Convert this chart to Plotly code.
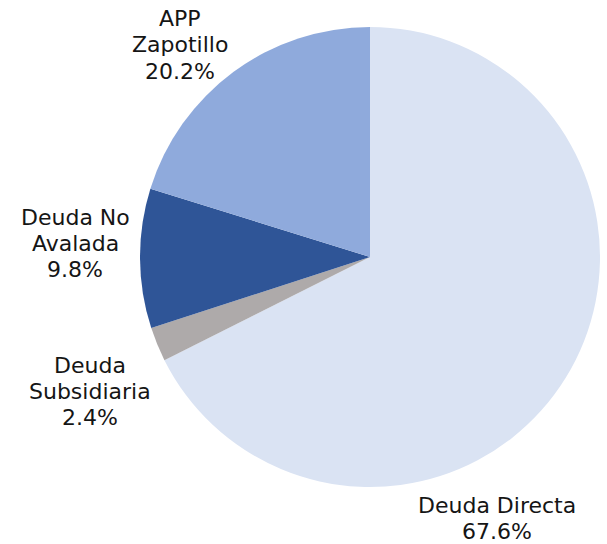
import plotly.graph_objects as go

labels = ["Deuda Directa", "Deuda Subsidiaria", "Deuda No Avalada", "APP Zapotillo"]
label_lines = [["Deuda Directa"], ["Deuda", "Subsidiaria"], ["Deuda No", "Avalada"], ["APP", "Zapotillo"]]
values = [67.6, 2.4, 9.8, 20.2]
colors = ["#DAE3F3", "#AEAAAA", "#2F5597", "#8FAADC"]

W, H = 607, 544

# label placement (pixel centre x of block, y of first line, line step)
label_cx = [496.5, 90, 75, 180]
label_y0 = [505, 365.3, 217, 18.5]
LINE_STEP = 26.3

def px_x(x):
    return x / W

def px_y(y):
    return (H - y) / H

fig = go.Figure(go.Pie(
    labels=labels, values=values, sort=False, direction="clockwise", rotation=0,
    marker=dict(colors=colors, line=dict(width=0)),
    textinfo="none", hoverinfo="label+percent",
    domain=dict(x=[px_x(140), px_x(600)], y=[px_y(487), px_y(27)]),
    showlegend=False,
))

for lines, v, cx, y0 in zip(label_lines, values, label_cx, label_y0):
    for i, t in enumerate(lines + [f"{v:.1f}%"]):
        fig.add_annotation(text=t, x=px_x(cx), y=px_y(y0 + i * LINE_STEP),
                           xref="paper", yref="paper",
                           xanchor="center", yanchor="middle", showarrow=False,
                           font=dict(family="DejaVu Sans", size=22, color="#151515"))

fig.update_layout(width=W, height=H, margin=dict(l=0, r=0, t=0, b=0),
                  paper_bgcolor="white", plot_bgcolor="white")
fig.write_html("out.html", config={"displayModeBar": False},
               post_script="document.body.style.margin='0px';")
